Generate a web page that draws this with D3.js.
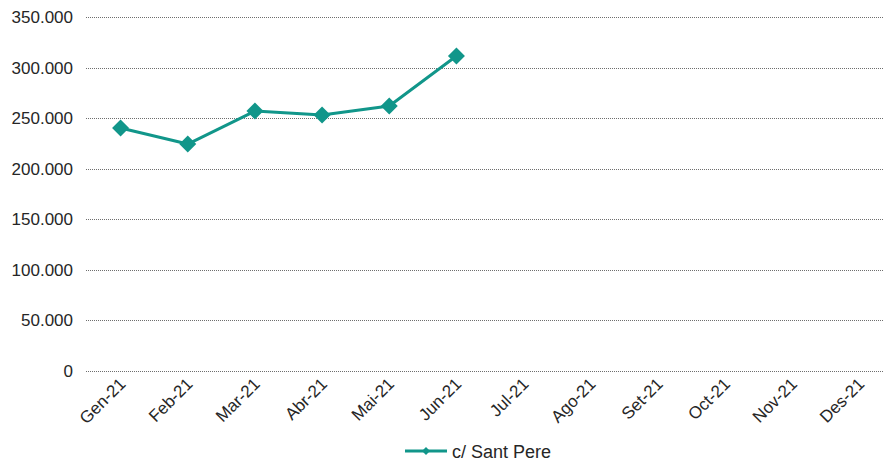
<!DOCTYPE html>
<html lang="ca">
<head>
<meta charset="UTF-8">
<title>c/ Sant Pere</title>
<script src="https://d3js.org/d3.v7.min.js"></script>
<style>
  html, body { margin: 0; padding: 0; background: #fff; }
  svg { display: block; font-family: "Liberation Sans", Arial, sans-serif; }
</style>
</head>
<body>
<div id="chart"></div>
<script>
// Data
const months = ["Gen-21", "Feb-21", "Mar-21", "Abr-21", "Mai-21", "Jun-21",
                "Jul-21", "Ago-21", "Set-21", "Oct-21", "Nov-21", "Des-21"];
const santPere = [240300, 224400, 257000, 253000, 262000, 311500];
const yTicks = [0, 50000, 100000, 150000, 200000, 250000, 300000, 350000];
const seriesName = "c/ Sant Pere";

const W = 884, H = 464;
const teal = "#11968a";
const plot = { left: 87, right: 893, top: 17, bottom: 371 };

const svg = d3.select("#chart").append("svg")
    .attr("width", W)
    .attr("height", H);

const x = d3.scaleBand()
    .domain(months)
    .range([plot.left, plot.right]);

const y = d3.scaleLinear()
    .domain([0, 350000])
    .range([plot.bottom, plot.top]);

const fmt = v => d3.format(",")(v).replace(/,/g, ".");

// grid lines
svg.append("g")
    .selectAll("line")
    .data(yTicks)
    .join("line")
    .attr("x1", plot.left - 1)
    .attr("x2", W)
    .attr("y1", d => Math.round(y(d)) + 0.5)
    .attr("y2", d => Math.round(y(d)) + 0.5)
    .attr("stroke", "#6e6e6e")
    .attr("stroke-dasharray", "1,1");

// y axis labels
svg.append("g")
    .attr("transform", `translate(${plot.left - 14},0)`)
    .call(d3.axisLeft(y).tickValues(yTicks).tickSize(0).tickPadding(0).tickFormat(fmt))
    .call(g => g.select(".domain").remove())
    .call(g => g.selectAll("text")
        .attr("fill", "#262626")
        .attr("font-size", "17px")
        .attr("font-family", "Liberation Sans, Arial, sans-serif"));

// x axis labels
svg.append("g")
    .attr("transform", `translate(0,${plot.bottom})`)
    .call(d3.axisBottom(x).tickSize(0))
    .call(g => g.select(".domain").remove())
    .call(g => g.selectAll("text")
        .attr("fill", "#262626")
        .attr("font-size", "17px")
        .attr("font-family", "Liberation Sans, Arial, sans-serif")
        .attr("text-anchor", "end")
        .attr("dy", 0)
        .attr("y", 0)
        .attr("transform", "translate(6,14) rotate(-45)"));

// line
const cx = (d, i) => x(months[i]) + x.bandwidth() / 2;
svg.append("path")
    .datum(santPere)
    .attr("fill", "none")
    .attr("stroke", teal)
    .attr("stroke-width", 3)
    .attr("stroke-linejoin", "round")
    .attr("d", d3.line().x(cx).y(d => y(d)));

// markers
const diamond = r => `M0,${-r}L${r},0L0,${r}L${-r},0Z`;
svg.append("g")
    .selectAll("path")
    .data(santPere)
    .join("path")
    .attr("d", diamond(8.5))
    .attr("fill", teal)
    .attr("transform", (d, i) => `translate(${cx(d, i)},${y(d)})`);

// legend
const lg = svg.append("g").attr("transform", "translate(405,451)");
lg.append("line")
    .attr("x1", 0).attr("x2", 42)
    .attr("stroke", teal).attr("stroke-width", 3);
lg.append("path")
    .attr("d", diamond(4))
    .attr("fill", teal)
    .attr("transform", "translate(21,0)");
lg.append("text")
    .attr("x", 47)
    .attr("y", 6.5)
    .attr("fill", "#262626")
    .attr("font-size", "18px")
    .text(seriesName);
</script>
</body>
</html>
